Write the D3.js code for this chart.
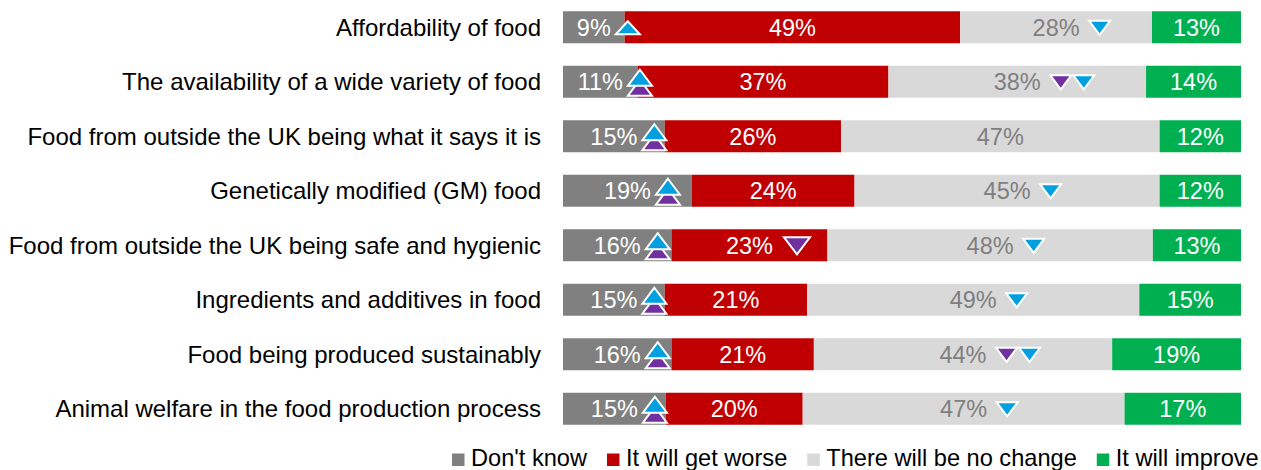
<!DOCTYPE html>
<html>
<head>
<meta charset="utf-8">
<script src="https://cdn.jsdelivr.net/npm/d3@7"></script>
<style>
    body { margin: 0; background: #fff; }
    #chart { width: 1261px; height: 470px; }
    text { font-family: Arial, "Liberation Sans", sans-serif; }
</style>
</head>
<body>
<div id="chart"></div>
<script>
// chart data
const categories = [
    "Affordability of food",
    "The availability of a wide variety of food",
    "Food from outside the UK being what it says it is",
    "Genetically modified (GM) food",
    "Food from outside the UK being safe and hygienic",
    "Ingredients and additives in food",
    "Food being produced sustainably",
    "Animal welfare in the food production process"
];
const dontKnow = [9, 11, 15, 19, 16, 15, 16, 15];
const getWorse = [49, 37, 26, 24, 23, 21, 21, 20];
const noChange = [28, 38, 47, 45, 48, 49, 44, 47];
const improve  = [13, 14, 12, 12, 13, 15, 19, 17];

const seriesNames  = ["Don't know", "It will get worse", "There will be no change", "It will improve"];
const seriesColors = ["#808080", "#c00000", "#d9d9d9", "#00b050"];

// significance markers per row (b = blue, p = purple)
const dontKnowMarks = ["b", "bp", "bp", "bp", "bp", "bp", "bp", "bp"];
const getWorseMarks = ["", "", "", "", "p", "", "", ""];
const noChangeMarks = ["b", "pb", "", "b", "b", "b", "pb", "b"];

const markColors = { b: "#00a0e0", p: "#7030a0" };

class StackedBarChart {
    constructor(opts) {
        this.element = opts.element;
        this.keys = opts.keys;
        this.colors = opts.colors;
        this.data = opts.data;
        this.marks = opts.marks;
        this.draw();
    }

    draw() {
        this.width = 1261;
        this.height = 470;
        this.margin = { top: 0, right: 20, bottom: 34, left: 563 };

        this.element.innerHTML = '';
        this.svg = d3.select(this.element).append('svg')
            .attr('width', this.width)
            .attr('height', this.height);

        this.createScales();
        this.addLabels();
        this.addBars();
        this.addValues();
        this.addLegend();
    }

    createScales() {
        const m = this.margin;

        // every row is stretched to 100%, like an excel 100% stacked bar
        this.series = d3.stack()
            .keys(this.keys)
            .offset(d3.stackOffsetExpand)(this.data);

        this.xScale = d3.scaleLinear()
            .domain([0, 1])
            .range([m.left, this.width - m.right]);

        this.yScale = d3.scaleBand()
            .domain(this.data.map(d => d.category))
            .range([m.top, this.height - m.bottom])
            .paddingInner(0.413)
            .paddingOuter(0.2065);
    }

    addLabels() {
        const y = this.yScale;
        this.svg.append('g')
            .selectAll('text')
            .data(this.data)
            .join('text')
            .attr('x', this.margin.left - 22)
            .attr('y', d => y(d.category) + y.bandwidth() / 2)
            .attr('dy', '0.36em')
            .attr('text-anchor', 'end')
            .style('font-size', '24px')
            .style('fill', '#000')
            .text(d => d.category);
    }

    addBars() {
        const x = this.xScale, y = this.yScale;
        this.svg.append('g')
            .selectAll('g')
            .data(this.series)
            .join('g')
            .attr('fill', (s, i) => this.colors[i])
            .selectAll('rect')
            .data(s => s)
            .join('rect')
            .attr('x', d => x(d[0]))
            .attr('y', d => y(d.data.category))
            .attr('width', d => x(d[1]) - x(d[0]))
            .attr('height', y.bandwidth());
    }

    addValues() {
        const x = this.xScale, y = this.yScale;
        const layer = this.svg.append('g');

        this.series.forEach((s, si) => {
            s.forEach((d, ri) => {
                const cx = (x(d[0]) + x(d[1])) / 2;
                const cy = y(d.data.category) + y.bandwidth() / 2;
                const label = layer.append('text')
                    .attr('x', cx)
                    .attr('y', cy)
                    .attr('dy', '0.36em')
                    .attr('text-anchor', 'middle')
                    .style('font-size', '23.5px')
                    .style('fill', si === 2 ? '#7f7f7f' : '#fff')
                    .text(d.data[s.key] + '%');

                const marks = this.marks[si] ? this.marks[si][ri] : '';
                if (!marks) return;
                const right = cx + label.node().getComputedTextLength() / 2;

                if (si === 0) {
                    this.addUpMarks(layer, right + 17, cy, marks);
                } else if (si === 1) {
                    this.addDownMark(layer, right + 24, cy, 13, 9, marks[0]);
                } else {
                    marks.split('').forEach((c, k) => {
                        this.addDownMark(layer, right + 20 + k * 23, cy, 10.5, 7.5, c);
                    });
                }
            });
        });
    }

    // triangles pointing up, purple sits under the blue one
    addUpMarks(layer, cx, cy, marks) {
        const tri = (apex, base, hw) => `M${cx},${apex}L${cx + hw},${base}L${cx - hw},${base}Z`;
        if (marks.includes('p')) {
            layer.append('path')
                .attr('d', tri(cy - 2, cy + 14, 12))
                .attr('fill', markColors.p)
                .attr('stroke', '#fff').attr('stroke-width', 2);
            layer.append('path')
                .attr('d', tri(cy - 12, cy + 4, 12))
                .attr('fill', markColors.b)
                .attr('stroke', '#fff').attr('stroke-width', 2);
        } else {
            layer.append('path')
                .attr('d', tri(cy - 6, cy + 7, 12))
                .attr('fill', markColors.b)
                .attr('stroke', '#fff').attr('stroke-width', 2);
        }
    }

    addDownMark(layer, cx, cy, hw, hh, c) {
        layer.append('path')
            .attr('d', `M${cx - hw},${cy - hh + 1}L${cx + hw},${cy - hh + 1}L${cx},${cy + hh}Z`)
            .attr('fill', markColors[c])
            .attr('stroke', '#fff')
            .attr('stroke-width', 2);
    }

    addLegend() {
        const legend = this.svg.append('g');
        let xPos = 452;
        const baseline = 465.5;

        this.keys.forEach((k, i) => {
            legend.append('rect')
                .attr('x', xPos)
                .attr('y', baseline - 12)
                .attr('width', 12.5)
                .attr('height', 12.5)
                .attr('fill', this.colors[i]);
            const t = legend.append('text')
                .attr('x', xPos + 19)
                .attr('y', baseline)
                .style('font-size', '23.6px')
                .style('fill', '#000')
                .text(k);
            xPos += 19 + t.node().getComputedTextLength() + 20;
        });
    }
}

// build one row object per category for d3.stack
const rows = categories.map((c, i) => ({
    category: c,
    [seriesNames[0]]: dontKnow[i],
    [seriesNames[1]]: getWorse[i],
    [seriesNames[2]]: noChange[i],
    [seriesNames[3]]: improve[i]
}));

const chart = new StackedBarChart({
    element: document.getElementById('chart'),
    keys: seriesNames,
    colors: seriesColors,
    data: rows,
    marks: [dontKnowMarks, getWorseMarks, noChangeMarks]
});
</script>
</body>
</html>
